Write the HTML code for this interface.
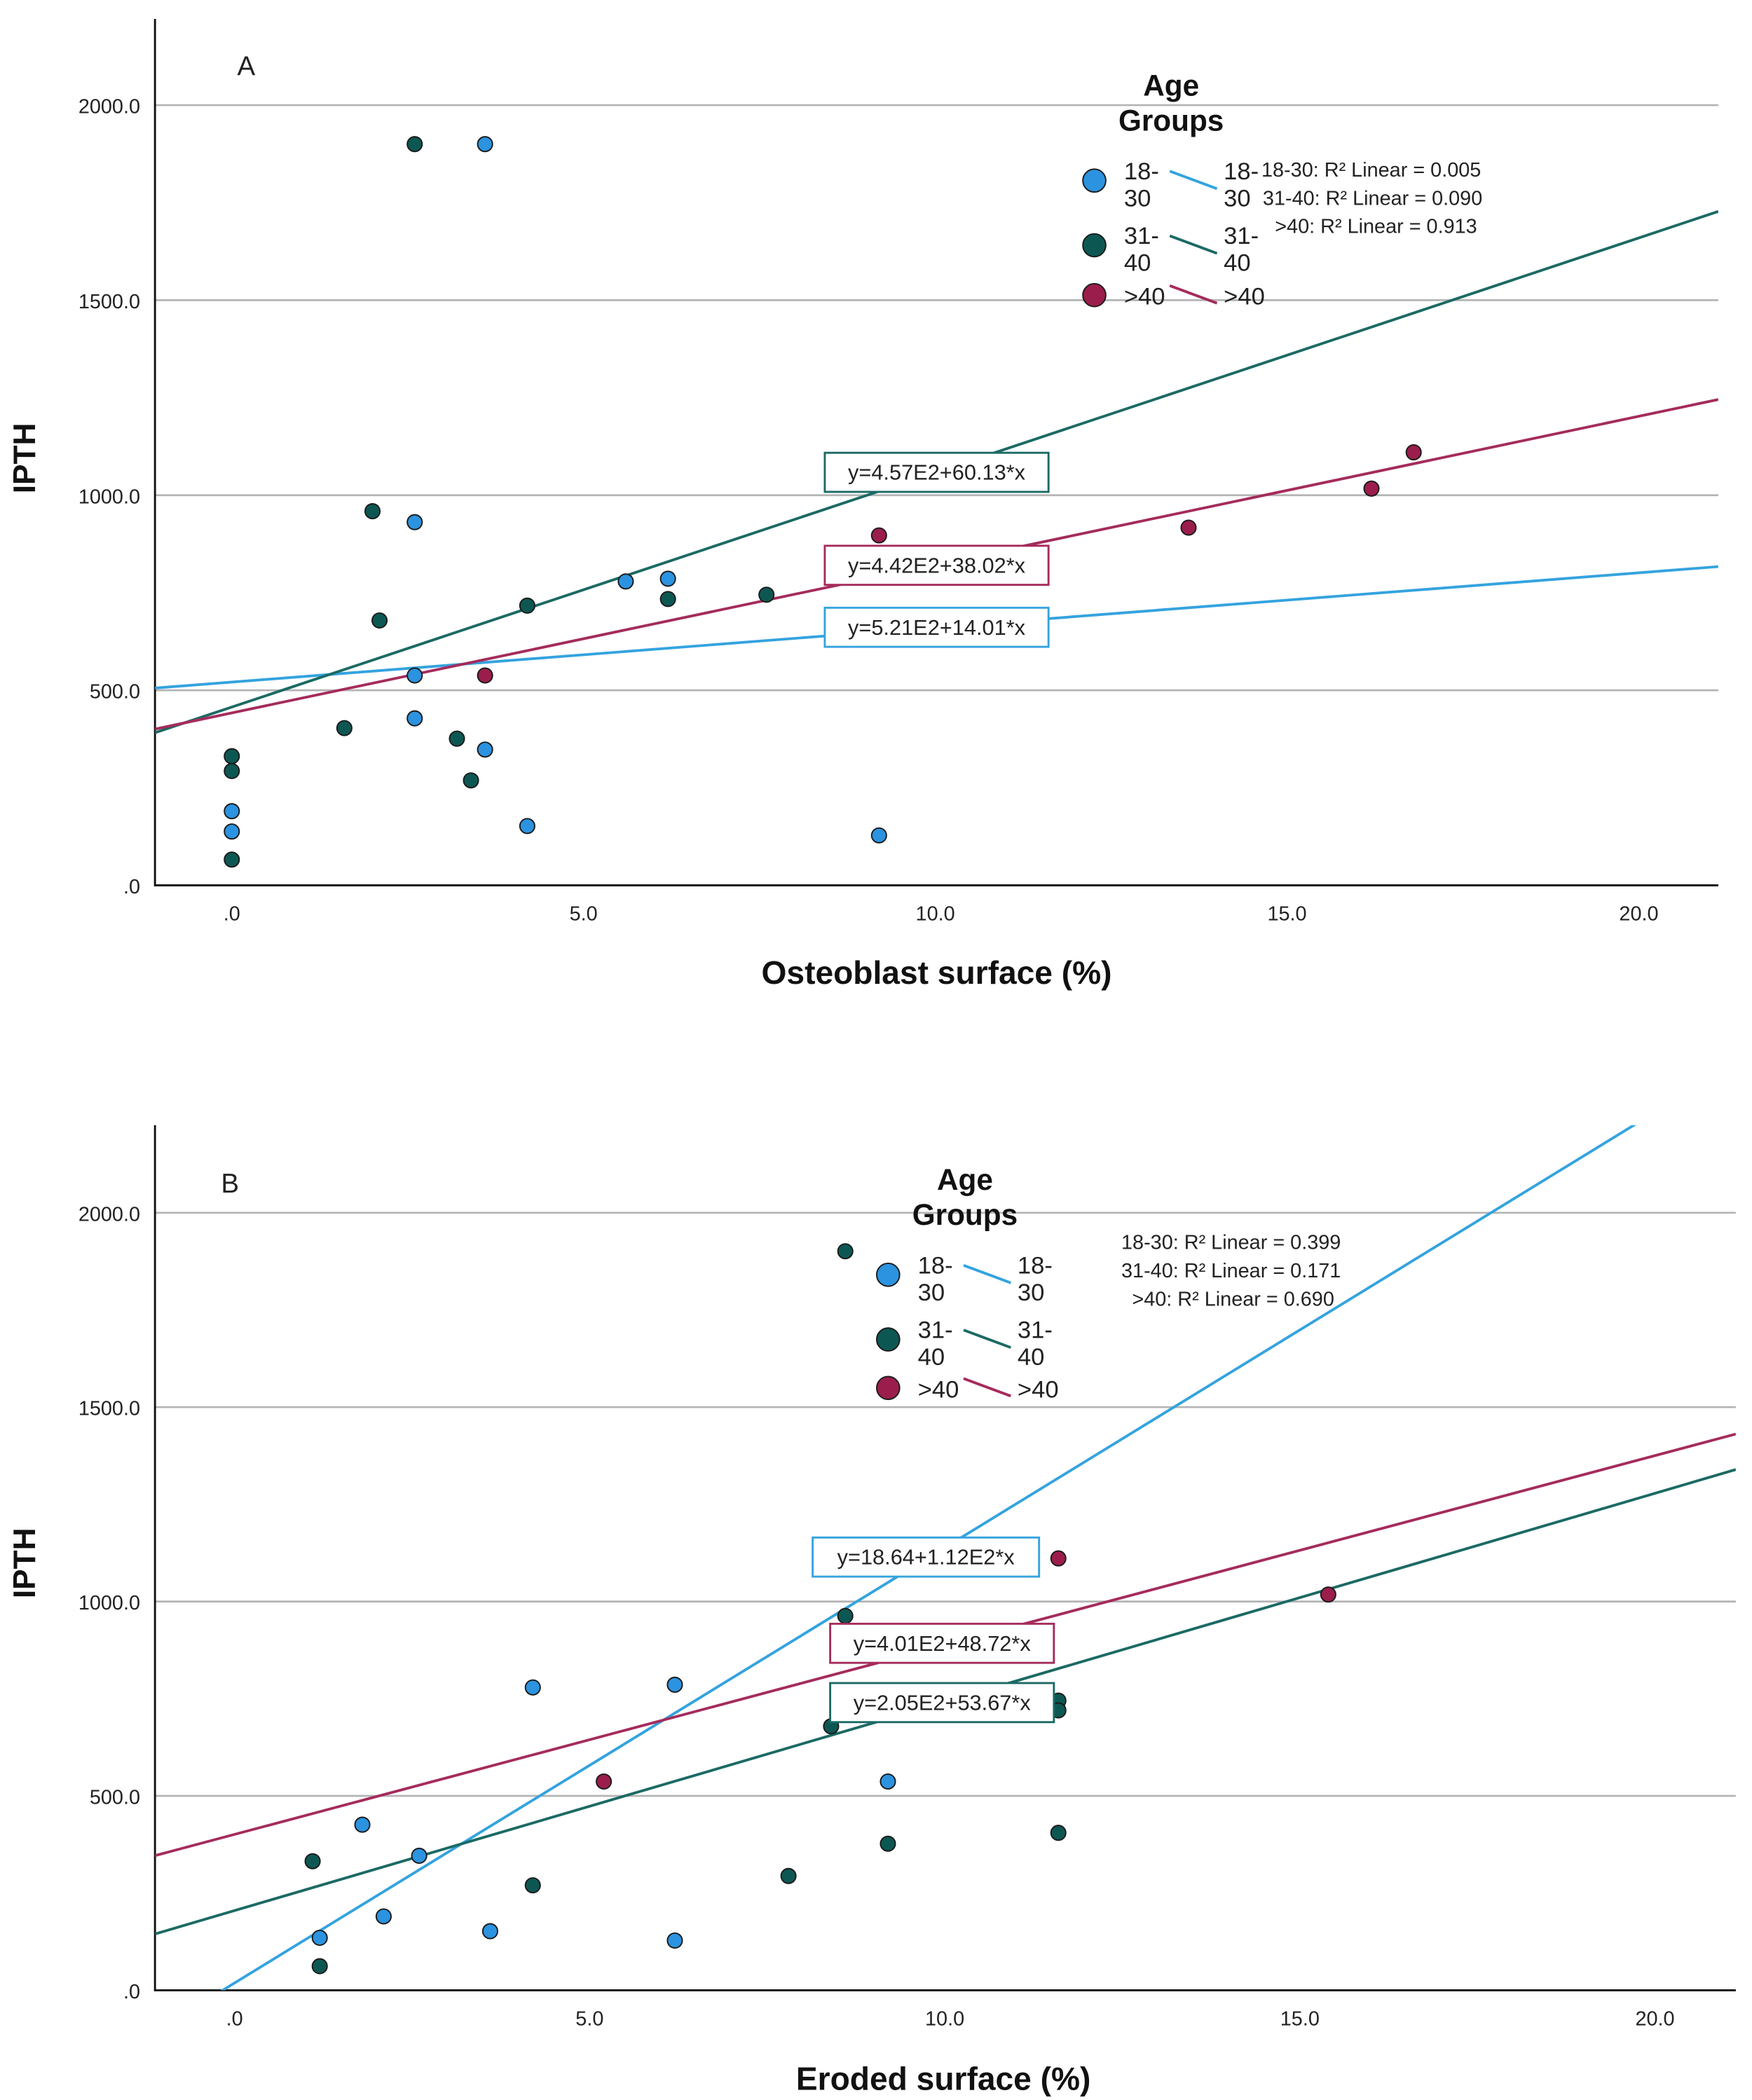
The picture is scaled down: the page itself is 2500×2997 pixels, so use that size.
<!DOCTYPE html>
<html><head><meta charset="utf-8"><style>
html,body{margin:0;padding:0;background:#fff;}
svg{display:block;font-family:"Liberation Sans",sans-serif;}
</style></head><body>
<svg id="chart" width="2500" height="2997" viewBox="0 0 1300 1558.4" xmlns="http://www.w3.org/2000/svg">
<defs>
<clipPath id="clipA"><rect x="115" y="14" width="1160" height="643"/></clipPath>
<clipPath id="clipB"><rect x="115" y="835" width="1173" height="642"/></clipPath>
</defs>
</svg>
<script>
// ---------- Panel A data ----------
const aBlueX=[3.6,2.6,2.6,2.6,3.6,4.2,0,0,5.6,6.2,9.2];
const aBlueY=[1900,931,538,428,348,152,190,138,779,786,128];
const aDarkX=[2.6,2.0,2.1,1.6,3.2,3.4,4.2,6.2,7.6,0,0,0];
const aDarkY=[1900,959,679,403,376,269,717,734,745,331,293,66];
const aRedX=[3.6,9.2,13.6,16.2,16.8];
const aRedY=[538,897,917,1017,1110];
const aIntercepts=[521,457,442];
const aSlopes=[14.01,60.13,38.02];
const aEqLabels=["y=5.21E2+14.01*x","y=4.57E2+60.13*x","y=4.42E2+38.02*x"];
const aR2=["18-30: R² Linear = 0.005","31-40: R² Linear = 0.090",">40: R² Linear = 0.913"];
// ---------- Panel B data ----------
const bBlueX=[1.2,1.8,2.1,2.6,3.6,4.2,6.2,6.2,9.2];
const bBlueY=[135,426,190,346,152,779,786,128,537];
const bDarkX=[1.1,1.2,4.2,7.8,8.4,8.6,8.6,9.2,11.6,11.6,11.6];
const bDarkY=[332,62,270,294,679,1901,963,377,405,745,720];
const bRedX=[5.2,11.6,15.4];
const bRedY=[537,1111,1018];
const bIntercepts=[18.64,205,401];
const bSlopes=[112,53.67,48.72];
const bEqLabels=["y=18.64+1.12E2*x","y=2.05E2+53.67*x","y=4.01E2+48.72*x"];
const bR2=["18-30: R² Linear = 0.399","31-40: R² Linear = 0.171",">40: R² Linear = 0.690"];
// ticks
const yTicks=[0,500,1000,1500,2000];
const yTickLabels=[".0","500.0","1000.0","1500.0","2000.0"];
const xTicks=[0,5,10,15,20];
const xTickLabels=[".0","5.0","10.0","15.0","20.0"];

const NS="http://www.w3.org/2000/svg";
const svg=document.getElementById('chart');
const FILL=["#2b93df","#0d5753","#9b1d4c"];
const LINE=["#34a3df","#1b6a64","#a52b5c"];
function mk(tag,attrs,parent){const e=document.createElementNS(NS,tag);for(const k in attrs)e.setAttribute(k,attrs[k]);(parent||svg).appendChild(e);return e;}
function txt(s,attrs,parent){const e=mk('text',attrs,parent);e.textContent=s;return e;}

function panel(p){
  const g=mk('g',{});
  
  
  const sx=v=>p.x0+v*(p.x20-p.x0)/20;
  const sy=v=>p.y0+v*(p.y2000-p.y0)/2000;
  yTicks.forEach((t,i)=>{
    if(t>0){const l=mk('line',{x1:p.left,x2:p.right,y1:sy(t),y2:sy(t),stroke:'#b4b4b4','stroke-width':1.4},g);
      }
    const lb=txt(yTickLabels[i],{x:104,y:sy(t)+6,'text-anchor':'end','font-size':15,fill:'#222'},g);
    
  });
  xTicks.forEach((t,i)=>{
    const lb=txt(xTickLabels[i],{x:sx(t),y:p.y0+26,'text-anchor':'middle','font-size':15,fill:'#222'},g);
    
  });
  const ax=mk('path',{d:`M${p.left},${p.top} V${p.y0} H${p.right}`,fill:'none',stroke:'#111','stroke-width':1.5},g);
  
  const xmin=(p.left-p.x0)/((p.x20-p.x0)/20), xmax=(p.right-p.x0)/((p.x20-p.x0)/20);
  const lg=mk('g',{'clip-path':`url(#${p.clip})`},g);
  for(let k=0;k<3;k++){
    const l=mk('line',{x1:sx(xmin),y1:sy(p.ic[k]+p.sl[k]*xmin),x2:sx(xmax),y2:sy(p.ic[k]+p.sl[k]*xmax),stroke:LINE[k],'stroke-width':2},lg);
    
  }
  const sets=[[p.bx,p.by],[p.dx,p.dy],[p.rx,p.ry]];
  sets.forEach((s,k)=>{s[0].forEach((xv,i)=>{
    const c=mk('circle',{cx:sx(xv),cy:sy(s[1][i]),r:5.5,fill:FILL[k],stroke:'#1a1a1a','stroke-width':1},g);
    
  });});
  p.boxes.forEach((b,k)=>{
    const r=mk('rect',{x:b[0],y:b[1],width:b[2]-b[0],height:29,fill:'#fff',stroke:LINE[k],'stroke-width':1.5},g);
    
    const t=txt(p.eq[k],{x:(b[0]+b[2])/2,y:b[1]+20,'text-anchor':'middle','font-size':16,fill:'#222'},g);
    
  });
  const pl=txt(p.letter,{x:p.letterX,y:p.letterY,'font-size':20,fill:'#222'},g);
  
  const yt=txt('IPTH',{x:0,y:0,transform:`translate(26,${p.yTitleY}) rotate(-90)`,'text-anchor':'middle','font-size':23,'font-weight':'bold',fill:'#111'},g);
  
  const xt=txt(p.xTitle,{x:p.xTitleX,y:p.xTitleY,'text-anchor':'middle','font-size':24,'font-weight':'bold',fill:'#111'},g);
  
  const L=p.leg;
  const lgG=mk('g',{},g);
  
  txt('Age',{x:L.tx,y:L.ty,'text-anchor':'middle','font-size':22,'font-weight':'bold',fill:'#111'},lgG);
  txt('Groups',{x:L.tx,y:L.ty+26,'text-anchor':'middle','font-size':22,'font-weight':'bold',fill:'#111'},lgG);
  const rows=[["18-","30"],["31-","40"],[">40"]];
  L.my.forEach((my,k)=>{
    const e=mk('g',{},lgG);
    
    mk('circle',{cx:L.mx,cy:my,r:8.5,fill:FILL[k],stroke:'#1a1a1a','stroke-width':1},e);
    const lines=rows[k];
    lines.forEach((s,j)=>{
      const yy=lines.length===1?my+7:my-1+j*20;
      txt(s,{x:L.mx+22,y:yy,'font-size':18,fill:'#222'},e);
      txt(s,{x:L.mx+96,y:yy,'font-size':18,fill:'#222'},e);
    });
    mk('line',{x1:L.mx+56,y1:my-7,x2:L.mx+91,y2:my+6,stroke:LINE[k],'stroke-width':2},e);
  });
  p.r2.forEach((s,k)=>{
    const t=txt(s,{x:p.r2x[k],y:p.r2y+k*21,'font-size':15,fill:'#222'},lgG);
    
  });
}

panel({name:'panel-a',left:115,right:1275,top:14,x0:172,x20:1216,y0:657,y2000:78,clip:'clipA',
  bx:aBlueX,by:aBlueY,dx:aDarkX,dy:aDarkY,rx:aRedX,ry:aRedY,ic:aIntercepts,sl:aSlopes,eq:aEqLabels,
  boxes:[[612,451,778],[612,336,778],[612,405,778]],letter:'A',letterX:176,letterY:56,
  yTitleY:340,xTitle:'Osteoblast  surface (%)',xTitleX:695,xTitleY:730,
  leg:{tx:869,ty:71,mx:812,my:[134,182,219]},r2:aR2,r2x:[936,937,946],r2y:131});
panel({name:'panel-b',left:115,right:1288,top:835,x0:174,x20:1228,y0:1477,y2000:900,clip:'clipB',
  bx:bBlueX,by:bBlueY,dx:bDarkX,dy:bDarkY,rx:bRedX,ry:bRedY,ic:bIntercepts,sl:bSlopes,eq:bEqLabels,
  boxes:[[603,1141,771],[616,1249,782],[616,1205,782]],letter:'B',letterX:164,letterY:885,
  yTitleY:1160,xTitle:'Eroded surface (%)',xTitleX:700,xTitleY:1551,
  leg:{tx:716,ty:883,mx:659,my:[946,994,1030]},r2:bR2,r2x:[832,832,840],r2y:927});
</script>
</body></html>
